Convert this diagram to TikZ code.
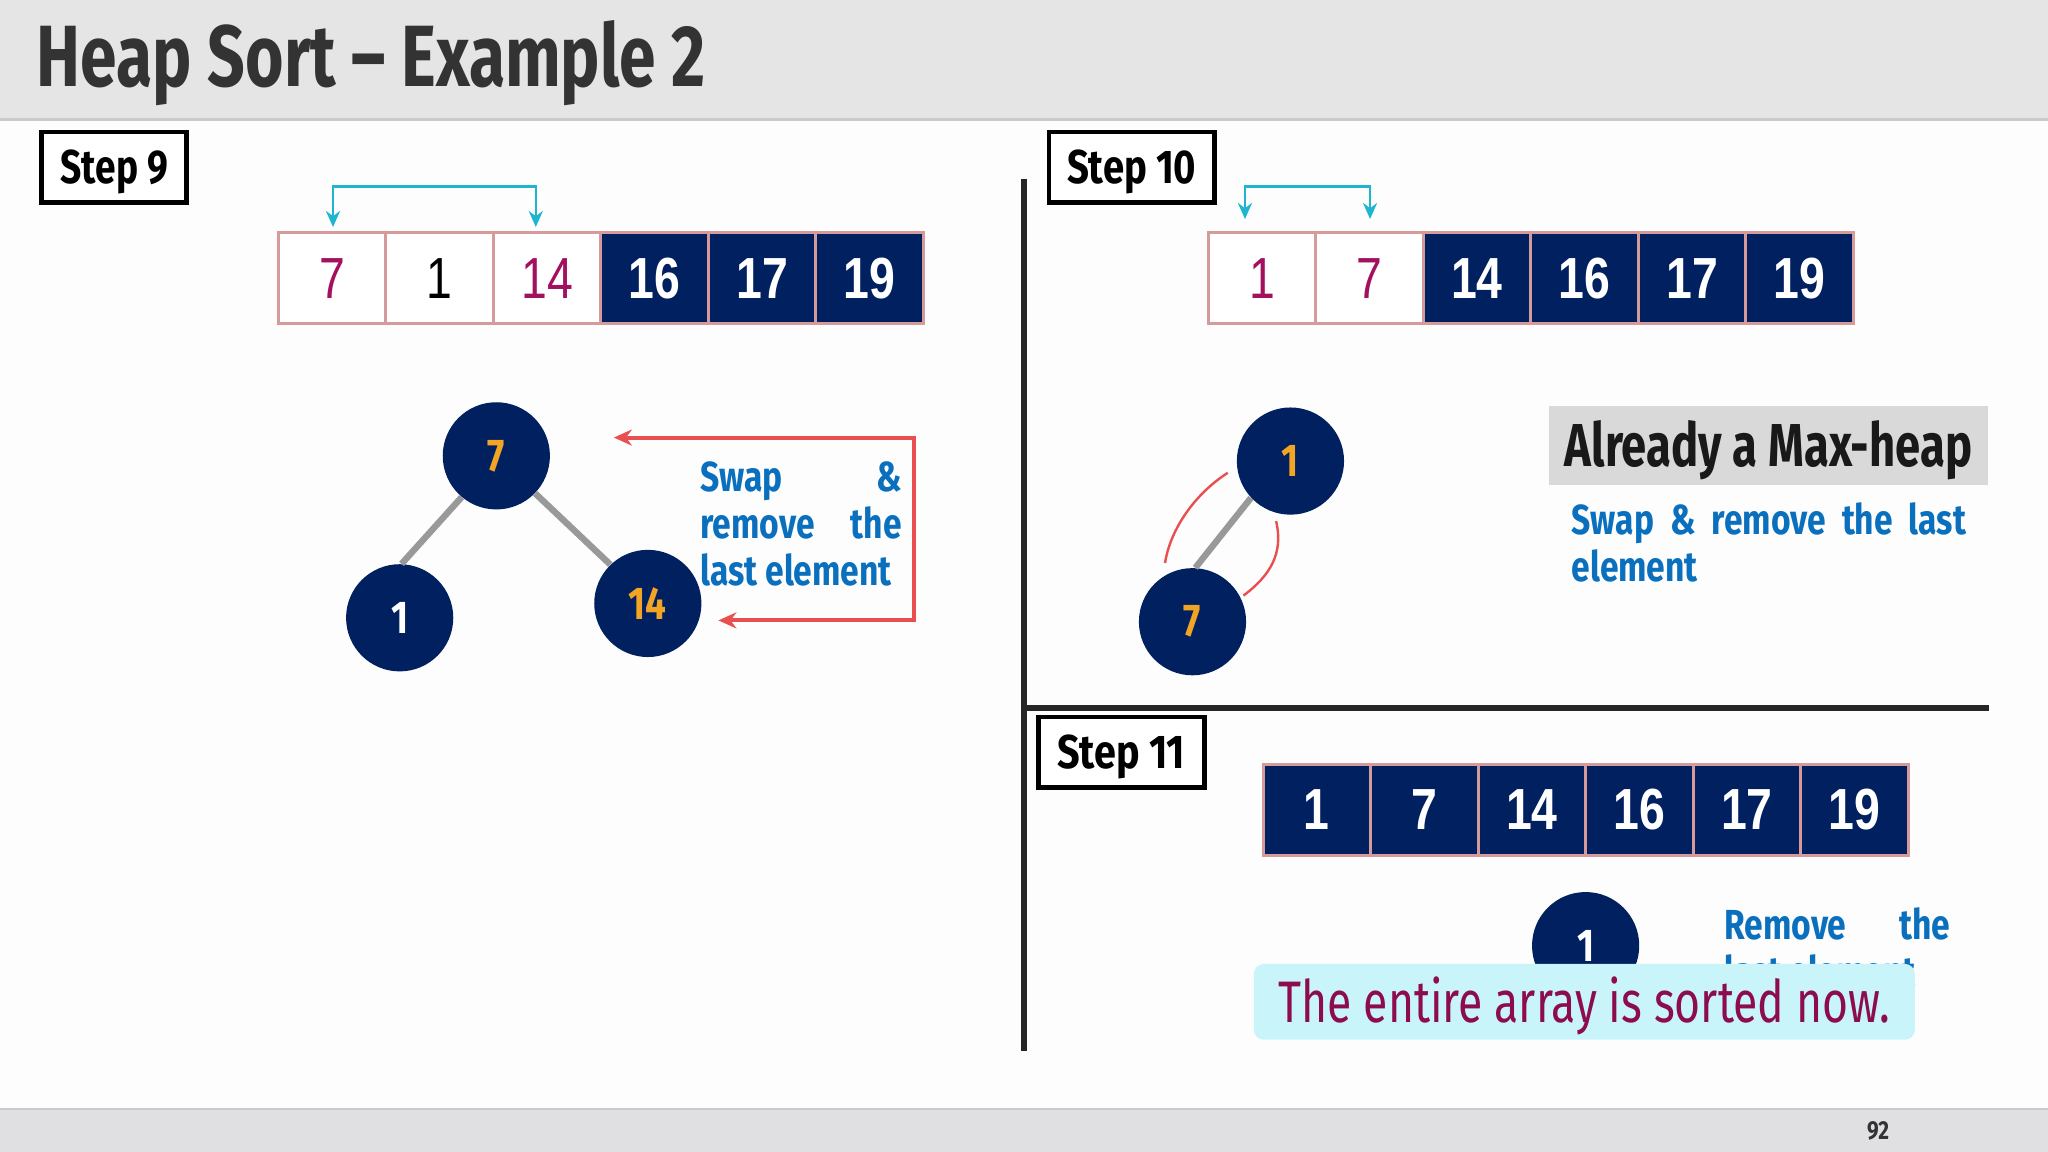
\documentclass[tikz,border=0pt]{standalone}
\usepackage{fontspec}
\usepackage{graphicx}
\setmainfont{Fira Sans}
\newfontfamily\condf{Fira Sans}[FakeStretch=0.8]
\newfontfamily\arrf{Liberation Sans}[FakeStretch=0.8]
\usetikzlibrary{arrows.meta,calc}
\definecolor{navy}{HTML}{002060}
\definecolor{pinkb}{HTML}{D79A9A}
\definecolor{magen}{HTML}{A3105E}
\definecolor{orng}{HTML}{F2A424}
\definecolor{blutx}{HTML}{0A70BE}
\definecolor{cyanar}{HTML}{1DB6CE}
\definecolor{redar}{HTML}{E94F4F}
\definecolor{edgegray}{HTML}{999999}
\definecolor{hdrgray}{HTML}{E5E5E5}
\definecolor{hdrline}{HTML}{CACACA}
\definecolor{ftrgray}{HTML}{E0DFE2}
\definecolor{cyanbox}{HTML}{C9F5FA}
\definecolor{sorttx}{HTML}{8C0C4F}
\definecolor{titletx}{HTML}{333333}
\definecolor{maxbox}{HTML}{D9D9D9}
\definecolor{pagebg}{HTML}{FDFDFD}
\newcommand{\fitw}[2]{\resizebox{#1}{\height}{#2}}
\tikzset{
  cellw/.style={draw=pinkb, line width=1.5pt, fill=white, minimum width=53.76pt, minimum height=45.7pt, inner sep=0pt, font={\arrf\fontsize{29}{29}\selectfont}},
  celln/.style={cellw, fill=navy, text=white, font={\arrf\bfseries\fontsize{29}{29}\selectfont}},
  heapnode/.style={circle, fill=navy, minimum size=53.6pt, inner sep=0pt, text=orng, font={\condf\bfseries\fontsize{23}{23}\selectfont}},
  treeedge/.style={draw=edgegray, line width=3.2pt},
  stepbox/.style={draw=black, line width=2.3pt, fill=white, minimum height=35.3pt, inner sep=0pt, text height=16.3pt, text depth=0pt, font={\condf\bfseries\fontsize{23.7}{24}\selectfont}},
  bluetext/.style={anchor=base west, inner sep=0pt, text=blutx, font={\condf\bfseries\fontsize{21}{23.5}\selectfont}},
  swaparrow/.style={draw=cyanar, line width=1.3pt, arrows={Stealth[length=8pt,width=7pt]-Stealth[length=8pt,width=7pt]}},
  redbracket/.style={draw=redar, line width=2pt, arrows={Stealth[length=9pt,width=8pt]-Stealth[length=9pt,width=8pt]}},
  redarc/.style={draw=redar, line width=1.2pt},
  divider/.style={draw=black!85, line width=2.6pt}
}
\begin{document}
\begin{tikzpicture}[x=0.6531pt, y=-0.6531pt]
\useasboundingbox (0,0) rectangle (1568,882);
% page
\fill[pagebg] (0,0) rectangle (1568,882);
\fill[hdrgray] (0,0) rectangle (1568,91);
\draw[hdrline, line width=1.4pt] (0,91.5) -- (1568,91.5);
\fill[ftrgray] (0,849) rectangle (1568,882);
\draw[hdrline, line width=1.2pt] (0,849) -- (1568,849);
\node[anchor=base west, inner sep=0pt, text=titletx] (title) at (28,66)
  {\fitw{334.4pt}{\condf\bfseries\fontsize{43.5}{43.5}\selectfont Heap Sort – Example 2}};
\node[inner sep=0pt, text=titletx, font={\condf\bfseries\fontsize{13}{13}\selectfont}] (pnum) at (1438,866) {92};

% dividers
\coordinate (vtop) at (784,137);
\coordinate (vbot) at (784,805);
\coordinate (hl) at (784,542);
\coordinate (hr) at (1523,542);
\draw[divider] (vtop) -- (vbot);
\draw[divider] (hl) -- (hr);

% ---------- Step 9 ----------
\node[stepbox, minimum width=72.5pt] (s9) at (87.5,128) {\fitw{53.6pt}{Step 9}};
\node[cellw, text=magen] (a1) at (254.2,213) {7};
\node[cellw, text=black] (a2) at (336.5,213) {1};
\node[cellw, text=magen] (a3) at (418.8,213) {14};
\node[celln] (a4) at (501.2,213) {16};
\node[celln] (a5) at (583.5,213) {17};
\node[celln] (a6) at (665.8,213) {19};
\draw[swaparrow] ([xshift=0.5pt,yshift=2pt]a1.north) -- ++(0,-31) -| ([xshift=-5.6pt,yshift=2pt]a3.north);

\node[heapnode] (n7) at (380,349) {7};
\node[heapnode, text=white] (n1) at (306,473) {1};
\node[heapnode] (n14) at (496,462) {14};
\draw[treeedge] (n7.230) -- (n1.88);
\draw[treeedge] (n7.316) -- (n14.134);

\coordinate (rtop) at (470,335);
\coordinate (rbot) at (550,475);
\draw[redbracket] (rtop) -- (700,335) -- (700,475) -- (rbot);
\node[bluetext] (t9) at (536,376)
  {\parbox[t]{100.6pt}{\makebox[100.6pt][s]{Swap \&}\\\makebox[100.6pt][s]{remove the}\\last element}};

% ---------- Step 10 ----------
\node[stepbox, minimum width=82.9pt] (s10) at (866.5,128) {\fitw{64.7pt}{Step 10}};
\node[cellw, text=magen] (b1) at (966.2,213) {1};
\node[cellw, text=magen] (b2) at (1048.5,213) {7};
\node[celln] (b3) at (1130.8,213) {14};
\node[celln] (b4) at (1213.2,213) {16};
\node[celln] (b5) at (1295.5,213) {17};
\node[celln] (b6) at (1377.8,213) {19};
\draw[swaparrow] ([xshift=-8.5pt,yshift=6pt]b1.north) -- ++(0,-25) -| ([xshift=0.3pt,yshift=6pt]b2.north);

\node[heapnode] (m1) at (988,353) {1};
\node[heapnode] (m7) at (913,476) {7};
\draw[treeedge] (m1.223) -- (m7.87);
\draw[redarc] (940,362) .. controls (915,378) and (896,405) .. (892,431);
\draw[redarc] (977,399) .. controls (983,424) and (972,441) .. (952,456);

\node[fill=maxbox, minimum width=219.4pt, minimum height=39.2pt, inner sep=0pt, text height=20.9pt, text depth=0pt, text=black!90] (maxh) at (1354,341)
  {\fitw{203.8pt}{\condf\bfseries\fontsize{30.3}{31}\selectfont Already a Max-heap}};
\node[bluetext] (t10) at (1203,409)
  {\parbox[t]{197.2pt}{\makebox[197.2pt][s]{Swap \& remove the last}\\element}};

% ---------- Step 11 ----------
\node[stepbox, minimum width=82.9pt] (s11) at (858.5,576) {\fitw{64pt}{Step 11}};
\node[celln] (c1) at (1008.2,620) {1};
\node[celln] (c2) at (1090.5,620) {7};
\node[celln] (c3) at (1172.8,620) {14};
\node[celln] (c4) at (1255.2,620) {16};
\node[celln] (c5) at (1337.5,620) {17};
\node[celln] (c6) at (1419.8,620) {19};

\node[heapnode, text=white] (k1) at (1214,724) {1};
\node[bluetext] (t11) at (1320,719)
  {\parbox[t]{113pt}{\makebox[113pt][s]{Remove the}\\last element}};

\node[fill=cyanbox, rounded corners=5pt, minimum width=330.5pt, minimum height=37.9pt, inner sep=0pt, text height=20.2pt, text depth=0pt, text=sorttx] (sorted) at (1213,767)
  {\fitw{305.6pt}{\condf\fontsize{29.3}{30}\selectfont The entire array is sorted now.}};
\end{tikzpicture}
\end{document}
